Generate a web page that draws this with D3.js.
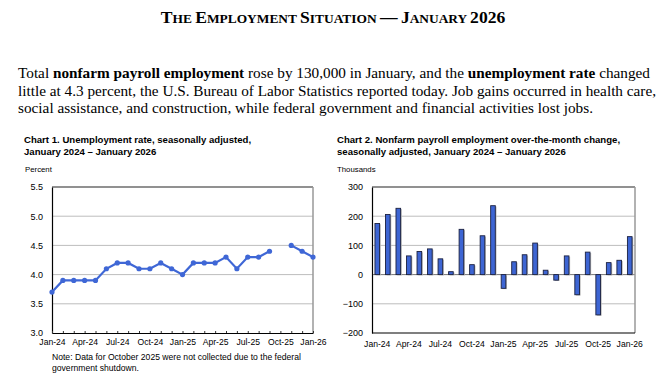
<!DOCTYPE html>
<html>
<head>
<meta charset="utf-8">
<script src="https://cdn.jsdelivr.net/npm/d3@7/dist/d3.min.js"></script>
<style>
  body { margin: 0; background: #fff; }
  svg { display: block; }
</style>
</head>
<body>
<script>
const WIDTH = 667;
const HEIGHT = 375;

// months Jan-24 .. Jan-26
var months = ['Jan-24', 'Feb-24', 'Mar-24', 'Apr-24', 'May-24', 'Jun-24', 'Jul-24', 'Aug-24', 'Sep-24',
    'Oct-24', 'Nov-24', 'Dec-24', 'Jan-25', 'Feb-25', 'Mar-25', 'Apr-25', 'May-25', 'Jun-25', 'Jul-25',
    'Aug-25', 'Sep-25', 'Oct-25', 'Nov-25', 'Dec-25', 'Jan-26'];
var tickMonths = ['Jan-24', 'Apr-24', 'Jul-24', 'Oct-24', 'Jan-25', 'Apr-25', 'Jul-25', 'Oct-25', 'Jan-26'];

// unemployment rate, percent (Oct-25 not collected)
var unemploymentRate = [3.7, 3.9, 3.9, 3.9, 3.9, 4.1, 4.2, 4.2, 4.1, 4.1, 4.2, 4.1, 4.0, 4.2, 4.2, 4.2,
    4.3, 4.1, 4.3, 4.3, 4.4, null, 4.5, 4.4, 4.3];
// nonfarm payroll change, thousands
var payrollChange = [175, 206, 227, 64, 79, 88, 54, 10, 155, 34, 133, 236, -47, 44, 68, 108, 15, -19,
    64, -69, 77, -138, 41, 49, 130];

var rateTicks = [3.0, 3.5, 4.0, 4.5, 5.0, 5.5];
var payrollTicks = [-200, -100, 0, 100, 200, 300];

var svg = d3.select('body').append('svg')
    .attr('width', WIDTH)
    .attr('height', HEIGHT);

var serif = '"Liberation Serif", "Times New Roman", serif';
var sans = '"Liberation Sans", Arial, sans-serif';

// ---- page title (manual small caps)
var title = svg.append('text')
    .attr('x', WIDTH / 2 - 0.5)
    .attr('y', 23)
    .attr('text-anchor', 'middle')
    .style('font-family', serif)
    .style('font-weight', 'bold')
    .style('fill', '#000');
var titleParts = [['T', 'HE '], ['E', 'MPLOYMENT '], ['S', 'ITUATION '], ['—', ' '], ['J', 'ANUARY '], ['2026', '']];
titleParts.forEach(function (p) {
    title.append('tspan').style('font-size', '17.6px').text(p[0]);
    if (p[1]) title.append('tspan').style('font-size', '13.4px').text(p[1]);
});

// ---- intro paragraph
var paraLines = [
    [['Total ', false], ['nonfarm payroll employment', true], [' rose by 130,000 in January, and the ', false],
        ['unemployment rate', true], [' changed', false]],
    [['little at 4.3 percent, the U.S. Bureau of Labor Statistics reported today. Job gains occurred in health care,', false]],
    [['social assistance, and construction, while federal government and financial activities lost jobs.', false]]
];
var paraWidths = [632, 638, 575];
paraLines.forEach(function (line, i) {
    var t = svg.append('text')
        .attr('x', 18)
        .attr('y', 78 + i * 17.5)
        .attr('textLength', paraWidths[i])
        .attr('lengthAdjust', 'spacingAndGlyphs')
        .style('font-family', serif)
        .style('font-size', '15.1px')
        .style('fill', '#000');
    line.forEach(function (seg) {
        t.append('tspan')
            .style('font-weight', seg[1] ? 'bold' : 'normal')
            .text(seg[0]);
    });
});

var drawFrame = function (g, x0, x1, y0, y1) {
    g.append('line').attr('x1', x0).attr('x2', x1).attr('y1', y0).attr('y2', y0)
        .attr('stroke', '#444').attr('stroke-width', 1.2);
    g.append('line').attr('x1', x1).attr('x2', x1).attr('y1', y0).attr('y2', y1)
        .attr('stroke', '#999').attr('stroke-width', 1.5);
};

var chartTitle = function (x, lines) {
    lines.forEach(function (l, i) {
        svg.append('text')
            .attr('x', x)
            .attr('y', 143 + i * 12)
            .style('font-family', sans)
            .style('font-size', '9.6px')
            .style('font-weight', 'bold')
            .style('fill', '#000')
            .text(l);
    });
};

// ================= Chart 1
chartTitle(24, ['Chart 1. Unemployment rate, seasonally adjusted,', 'January 2024 \u2013 January 2026']);
svg.append('text')
    .attr('x', 25).attr('y', 172)
    .style('font-family', sans).style('font-size', '7.8px').style('fill', '#000')
    .text('Percent');

var x1 = d3.scalePoint().domain(months).range([52, 313]);
var y1 = d3.scaleLinear().domain([3.0, 5.5]).range([333, 187]);

var c1 = svg.append('g');
c1.append('g')
    .selectAll('line')
    .data(rateTicks.slice(1))
    .enter().append('line')
    .attr('x1', 52).attr('x2', 313)
    .attr('y1', function (d) { return y1(d); })
    .attr('y2', function (d) { return y1(d); })
    .attr('stroke', '#bdbdbd').attr('stroke-width', 1);
drawFrame(c1, 52, 313, 187, 333);

var yAxis1 = d3.axisLeft(y1).tickValues(rateTicks).tickFormat(d3.format('.1f')).tickSize(0).tickPadding(9);
c1.append('g')
    .attr('transform', 'translate(52,0)')
    .call(yAxis1)
    .call(function (g) {
        g.select('.domain').attr('stroke', '#000').attr('stroke-width', 1.2);
        g.selectAll('text').style('font-family', sans).style('font-size', '9px').attr('fill', '#000');
    });

var xAxis1 = d3.axisBottom(x1).tickSize(-2).tickPadding(6).tickSizeOuter(0)
    .tickFormat(function (d) { return tickMonths.indexOf(d) >= 0 ? d : ''; });
c1.append('g')
    .attr('transform', 'translate(0,333)')
    .call(xAxis1)
    .call(function (g) {
        g.select('.domain').attr('stroke', '#000').attr('stroke-width', 1.2);
        g.selectAll('.tick line').attr('stroke', '#333');
        g.selectAll('text').style('font-family', sans).style('font-size', '8.6px').attr('fill', '#000');
    });

var rateData = months.map(function (m, i) { return { m: m, v: unemploymentRate[i] }; });
var line1 = d3.line()
    .defined(function (d) { return d.v !== null; })
    .x(function (d) { return x1(d.m); })
    .y(function (d) { return y1(d.v); });
c1.append('path')
    .attr('d', line1(rateData))
    .attr('fill', 'none')
    .attr('stroke', '#3f67d6')
    .attr('stroke-width', 2.2);
c1.selectAll('circle')
    .data(rateData.filter(function (d) { return d.v !== null; }))
    .enter().append('circle')
    .attr('cx', function (d) { return x1(d.m); })
    .attr('cy', function (d) { return y1(d.v); })
    .attr('r', 2.6)
    .attr('fill', '#3f67d6');

svg.append('text')
    .attr('x', 52).attr('y', 360)
    .style('font-family', sans).style('font-size', '8.6px').style('fill', '#000')
    .text('Note: Data for October 2025 were not collected due to the federal');
svg.append('text')
    .attr('x', 52).attr('y', 371)
    .style('font-family', sans).style('font-size', '8.6px').style('fill', '#000')
    .text('government shutdown.');

// ================= Chart 2
chartTitle(337, ['Chart 2. Nonfarm payroll employment over-the-month change,', 'seasonally adjusted, January 2024 \u2013 January 2026']);
svg.append('text')
    .attr('x', 337).attr('y', 172)
    .style('font-family', sans).style('font-size', '7.8px').style('fill', '#000')
    .text('Thousands');

var x2 = d3.scaleBand().domain(months).range([372, 635]).paddingInner(0.56).paddingOuter(0.28);
var y2 = d3.scaleLinear().domain([-200, 300]).range([333, 187]);

var c2 = svg.append('g');
c2.append('g')
    .selectAll('line')
    .data(payrollTicks.slice(1))
    .enter().append('line')
    .attr('x1', 372).attr('x2', 635)
    .attr('y1', function (d) { return y2(d); })
    .attr('y2', function (d) { return y2(d); })
    .attr('stroke', function (d) { return d === 0 ? '#777' : '#bdbdbd'; })
    .attr('stroke-width', 1);
drawFrame(c2, 372, 635, 187, 333);

var payData = months.map(function (m, i) { return { m: m, v: payrollChange[i] }; });
// light shadow on the right of each bar
c2.selectAll('rect.shadow')
    .data(payData)
    .enter().append('rect')
    .attr('class', 'shadow')
    .attr('x', function (d) { return x2(d.m) + 1.2; })
    .attr('y', function (d) { return Math.min(y2(d.v), y2(0)) + 0.8; })
    .attr('width', x2.bandwidth())
    .attr('height', function (d) { return Math.abs(y2(d.v) - y2(0)); })
    .attr('fill', '#b8b8b8');
c2.selectAll('rect.bar')
    .data(payData)
    .enter().append('rect')
    .attr('class', 'bar')
    .attr('x', function (d) { return x2(d.m); })
    .attr('y', function (d) { return Math.min(y2(d.v), y2(0)); })
    .attr('width', x2.bandwidth())
    .attr('height', function (d) { return Math.abs(y2(d.v) - y2(0)); })
    .attr('fill', '#3d65d3')
    .attr('stroke', '#1b2140')
    .attr('stroke-width', 0.9);

var yAxis2 = d3.axisLeft(y2).tickValues(payrollTicks).tickFormat(d3.format('d')).tickSize(0).tickPadding(9);
c2.append('g')
    .attr('transform', 'translate(372,0)')
    .call(yAxis2)
    .call(function (g) {
        g.select('.domain').attr('stroke', '#000').attr('stroke-width', 1.2);
        g.selectAll('text').style('font-family', sans).style('font-size', '9px').attr('fill', '#000');
    });

var xAxis2 = d3.axisBottom(x2).tickSize(0).tickPadding(8).tickSizeOuter(0)
    .tickFormat(function (d) { return tickMonths.indexOf(d) >= 0 ? d : ''; });
c2.append('g')
    .attr('transform', 'translate(0,333)')
    .call(xAxis2)
    .call(function (g) {
        g.select('.domain').attr('stroke', '#000').attr('stroke-width', 1.2).attr('d', 'M372,0H635');
        g.selectAll('text').style('font-family', sans).style('font-size', '8.6px').attr('fill', '#000');
    });
</script>
</body>
</html>
